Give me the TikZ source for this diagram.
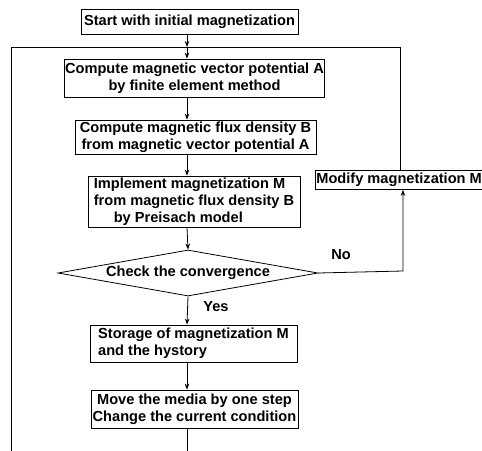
\documentclass[tikz,border=0pt]{standalone}
\usepackage{fontspec}
\setmainfont{Liberation Sans}
\usetikzlibrary{shapes.geometric,arrows.meta}
\begin{document}
\begin{tikzpicture}[x=1pt,y=-1pt,
  every node/.style={font=\bfseries\fontsize{14.6}{16.8}\selectfont},
  box/.style={draw,line width=0.8pt,inner xsep=1pt,inner ysep=0pt,align=center},
  conn/.style={line width=0.8pt},
  arr/.style={conn,-{Stealth[length=6pt,width=4.5pt]}},
  lbl/.style={inner sep=0pt}]
\useasboundingbox (0,0) rectangle (482,450);
\coordinate (ax) at (187,0);
\node[box,minimum width=217,minimum height=25] (start) at (189.5,21.5) {Start with initial magnetization};
\node[box,minimum width=259,minimum height=38] (b1) at (194.5,78) {Compute magnetic vector potential A\\by finite element method};
\node[box,minimum width=241,minimum height=34] (b2) at (195.5,137) {Compute magnetic flux density B\\from magnetic vector potential A};
\node[box,minimum width=212,minimum height=51,align=left] (b3) at (194,201.5) {Implement magnetization M\\from magnetic flux density B\\\hspace*{20pt}by Preisach model};
\node[box,minimum width=172,minimum height=19,anchor=west] (mod) at (315,180) {Modify magnetization M\hspace*{8pt}};
\node[draw,line width=0.8pt,shape=diamond,shape aspect=5.65,minimum width=260,minimum height=46,inner sep=0pt] (chk) at (188,273) {Check the convergence};
\node[box,minimum width=207,minimum height=37,align=left] (st) at (193.5,343.5) {Storage of magnetization M\\and the hystory};
\node[box,minimum width=207,minimum height=38] (mv) at (194.5,409) {Move the media by one step\\Change the current condition};
\coordinate (top) at (187,47);
\coordinate (tl) at (11,47);
\coordinate (tr) at (400,47);
\coordinate (bot) at (187,452);
\coordinate (bl) at (11,452);
\coordinate (rc) at (403,271);
\node[lbl] (no) at (341,255) {No};
\node[lbl] (yes) at (216,307) {Yes};
% main flow
\draw[arr] (start.south -| ax) -- (top);
\draw[arr] (top) -- (b1.north -| ax);
\draw[arr] (b1.south -| ax) -- (b2.north -| ax);
\draw[arr] (b2.south -| ax) -- (b3.north -| ax);
\draw[arr] (b3.south -| ax) -- (chk.north);
\draw[arr] (chk.south) -- (st.north -| ax);
\draw[arr] (st.south -| ax) -- (mv.north -| ax);
\draw[conn] (mv.south -| ax) -- (bot);
% loops
\draw[conn] (bl) -- (tl) -- (top);
\draw[conn] (top) -- (tr) -- (mod.north -| tr);
\draw[arr] (chk.east) -- (rc) -- (mod.south -| rc);
\end{tikzpicture}
\end{document}
